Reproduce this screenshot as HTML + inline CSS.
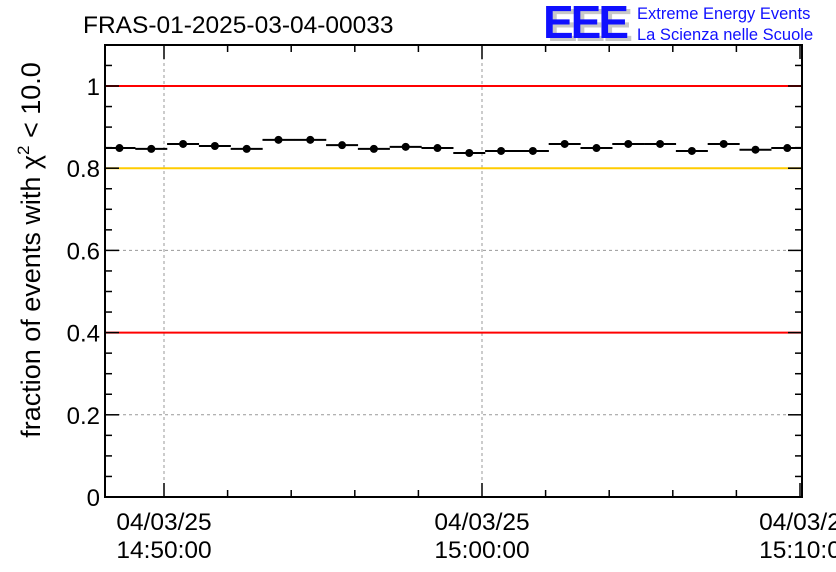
<!DOCTYPE html>
<html><head><meta charset="utf-8"><style>
body{margin:0;background:#fff;}
svg{display:block;font-family:"Liberation Sans",sans-serif;}
</style></head><body>
<svg id="chart" width="836" height="572" xmlns="http://www.w3.org/2000/svg">
<text x="83" y="33" font-size="24.5" fill="#000">FRAS-01-2025-03-04-00033</text>
<g>
<text x="547" y="41" font-size="46" font-weight="bold" fill="#c8c8c8" letter-spacing="-3">EEE</text>
<text x="543" y="38" font-size="46" font-weight="bold" fill="#1010ff" letter-spacing="-3">EEE</text>
<text x="637" y="19" font-size="16.5" fill="#1010ff">Extreme Energy Events</text>
<text x="637" y="40" font-size="16.5" fill="#1010ff">La Scienza nelle Scuole</text>
</g>
<g id="grid"></g><g id="refs"></g><g id="marks"></g><g id="axes"></g>
<text transform="translate(40,250) rotate(-90)" text-anchor="middle" font-size="27" fill="#000">fraction of events with χ<tspan font-size="17" dy="-11">2</tspan><tspan dy="11"> &lt; 10.0</tspan></text>
</svg>
<script>
const minutes=[0,1,2,3,4,5,6,7,8,9,10,11,12,13,14,15,16,17,18,19,20,21];
const values=[0.849,0.847,0.859,0.854,0.847,0.869,0.869,0.856,0.847,0.852,0.849,0.837,0.842,0.842,0.859,0.849,0.859,0.859,0.842,0.859,0.845,0.849];
const refLines=[1.0,0.8,0.4];
const refColors=['#ff0000','#ffcc00','#ff0000'];
const yTicks=['0','0.2','0.4','0.6','0.8','1'];
const xTickDates=['04/03/25','04/03/25','04/03/2'];
const xTickTimes=['14:50:00','15:00:00','15:10:0'];
const X0=105,X1=802,Y0=497,YT=45;
// t = minutes after 14:50:00
const xt=t=>164+t*31.8;
const x=m=>xt(m-1.4);
const y=v=>Y0-v*411;
const NS='http://www.w3.org/2000/svg';
function el(p,t,a){const e=document.createElementNS(NS,t);for(const k in a)e.setAttribute(k,a[k]);p.appendChild(e);return e;}
const grid=document.getElementById('grid'),refs=document.getElementById('refs'),marks=document.getElementById('marks'),axes=document.getElementById('axes');
[0.2,0.4,0.6,0.8].forEach(v=>{const l=el(grid,'line',{x1:X0,x2:X1,y1:y(v),y2:y(v),stroke:'#999','stroke-dasharray':'3,3','stroke-width':1});

});
[0,10].forEach(t=>{const l=el(grid,'line',{x1:xt(t),x2:xt(t),y1:YT,y2:Y0,stroke:'#999','stroke-dasharray':'3,3','stroke-width':1});

});
refLines.forEach((v,i)=>{const l=el(refs,'line',{x1:X0,x2:X1,y1:y(v),y2:y(v),stroke:refColors[i],'stroke-width':2});

});
minutes.forEach((m,i)=>{const g=el(marks,'g',{});


el(g,'line',{x1:Math.max(x(m)-16,X0),x2:Math.min(x(m)+16,X1),y1:y(values[i]),y2:y(values[i]),stroke:'#000','stroke-width':2});
el(g,'circle',{cx:x(m),cy:y(values[i]),r:4,fill:'#000'});});
const fr=el(axes,'rect',{x:X0,y:YT,width:X1-X0,height:Y0-YT,fill:'none',stroke:'#000','stroke-width':2});


for(let k=0;k<=22;k++){const v=k*0.05;const maj=k%4===0;
el(axes,'line',{x1:X0,x2:X0+(maj?14:7),y1:y(v),y2:y(v),stroke:'#000','stroke-width':1.5});
el(axes,'line',{x1:X1,x2:X1-(maj?14:7),y1:y(v),y2:y(v),stroke:'#000','stroke-width':1.5});}
yTicks.forEach((t,i)=>{const tx=el(axes,'text',{x:X0-5,y:y(i*0.2)+9,'text-anchor':'end','font-size':24,fill:'#000'});tx.textContent=t;

});
for(let t=-2;t<=20;t+=2){const xx=xt(t);if(xx<X0||xx>X1+1)continue;const maj=(t%10===0);
el(axes,'line',{x1:xx,x2:xx,y1:Y0,y2:Y0-(maj?14:7),stroke:'#000','stroke-width':1.5});
el(axes,'line',{x1:xx,x2:xx,y1:YT,y2:YT+(maj?14:7),stroke:'#000','stroke-width':1.5});}
xTickDates.forEach((d,i)=>{const xx=xt(i*10);
const t1=el(axes,'text',{x:xx,y:530,'text-anchor':'middle','font-size':24.5,fill:'#000'});t1.textContent=d;


const t2=el(axes,'text',{x:xx,y:558,'text-anchor':'middle','font-size':24.5,fill:'#000'});t2.textContent=xTickTimes[i];

});
</script>
</body></html>
